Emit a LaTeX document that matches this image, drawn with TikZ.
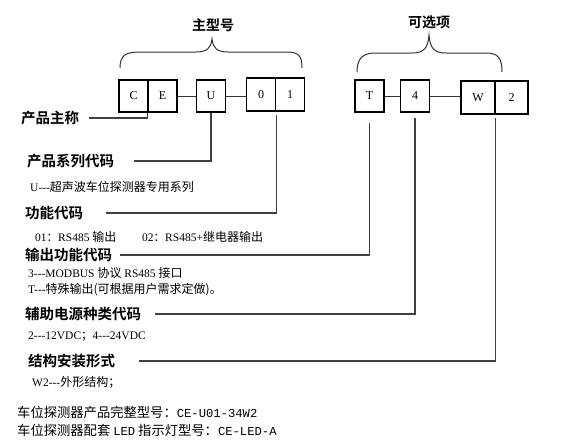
\documentclass[tikz,border=0pt]{standalone}
\usepackage{fontspec}
\setmainfont[Ligatures=TeXOff]{Liberation Serif}
\newfontfamily\zh[BoldFont={Noto Sans CJK SC Bold}]{Noto Sans CJK SC}
\newfontfamily\mono{Liberation Mono}
\usetikzlibrary{positioning}

\begin{document}
\begin{tikzpicture}[x=1pt,y=-1pt,
  cell/.style={draw,line width=1.6pt,minimum width=29pt,minimum height=32pt,inner sep=0pt,font=\fontsize{12}{12}\selectfont},
  head/.style={anchor=west,inner sep=0pt,font=\zh\bfseries\fontsize{14.5}{15}\selectfont},
  txt/.style={anchor=west,inner sep=0pt,font=\fontsize{11.5}{12}\selectfont},
  lead/.style={draw=black!75,line width=1.1pt},
  link/.style={draw=black!80,line width=0.9pt},
  brc/.style={draw=black!80,line width=1pt}]
\useasboundingbox (0,0) rectangle (585,445);
% main model boxes
\foreach \t/\x in {C/133.5,E/162.5,U/211} { \node[cell] (b\t) at (\x,96) {\t}; }
\foreach \t/\x in {0/261,1/290} { \node[cell,minimum height=33pt] (b\t) at (\x,94.5) {\t}; }
% optional boxes
\foreach \t/\x in {T/369.5,4/415} { \node[cell] (b\t) at (\x,96) {\t}; }
\foreach \t/\x in {W/478,2/511.5} { \node[cell,minimum width=33.5pt,minimum height=33pt] (b\t) at (\x,97.5) {\t}; }
\draw[link] (bE.east) -- (bU.west);
\draw[link] (bU.east) -- (bU.east -| b0.west);
\draw[link] (bT.east) -- (b4.west);
\draw[link] (b4.east) -- (b4.east -| bW.west);
% braces
\node[font=\zh\bfseries\fontsize{14}{14}\selectfont] (tMain) at (213,25) {主型号};
\node[font=\zh\bfseries\fontsize{14}{14}\selectfont] (tOpt) at (429,22) {可选项};
\draw[brc] (120,68) .. controls (120,55) and (126,52) .. (140,52) -- (196,52)
  .. controls (207,52) and (211,48) .. (212,39) .. controls (213,48) and (217,52) .. (228,52)
  -- (286,52) .. controls (299,52) and (302,56) .. (302,68);
\draw[brc] (357,72) .. controls (357,58) and (363,53) .. (376,53) -- (412,53)
  .. controls (424,53) and (428,48) .. (429,35) .. controls (430,48) and (434,53) .. (446,53)
  -- (486,53) .. controls (498,53) and (502,58) .. (502,72);
% headings
\node[head] (hA) at (21,118) {产品主称};
\node[head] (hB) at (27,161) {产品系列代码};
\node[head] (hC) at (25,213) {功能代码};
\node[head] (hD) at (25,255) {输出功能代码};
\node[head] (hE) at (25,314) {辅助电源种类代码};
\node[head] (hF) at (28,361) {结构安装形式};
% leads
\draw[lead] ([xshift=10pt]hA.east) -| (bE.south west);
\draw[lead] ([xshift=20pt]hB.east) -| (bU.south);
\draw[lead,shorten >=3pt] ([xshift=23pt]hC.east) -| (b0.south east);
\draw[lead,shorten >=10pt] ([xshift=8pt]hD.east) -| (bT.south);
\draw[lead,shorten >=5pt] ([xshift=14pt]hE.east) -| (b4.south);
\draw[lead,shorten >=3pt] ([xshift=24pt]hF.east) -| (bW.south east);
% descriptions
\node[txt] (dB) at (30,187) {U---{\zh\fontsize{12}{12}\selectfont 超声波车位探测器专用系列}};
\node[txt] (dC1) at (35,237) {01{\zh ：}RS485 {\zh\fontsize{12}{12}\selectfont 输出}};
\node[txt] (dC2) at (142,237) {02{\zh ：}RS485+{\zh\fontsize{12}{12}\selectfont 继电器输出}};
\node[txt] (dD1) at (28,273) {3---MODBUS {\zh\fontsize{12}{12}\selectfont 协议} RS485 {\zh\fontsize{12}{12}\selectfont 接口}};
\node[txt] (dD2) at (28,290) {T---{\zh\fontsize{12}{12}\selectfont 特殊输出(可根据用户需求定做)。}};
\node[txt] (dE) at (28,337) {2---12VDC{\zh ；}4---24VDC};
\node[txt] (dF) at (32,382) {W2---{\zh\fontsize{12}{12}\selectfont 外形结构；}};
% model numbers
\node[txt,font=\zh\fontsize{13.3}{14}\selectfont] (mA) at (17,412) {车位探测器产品完整型号：{\mono\fontsize{12.2}{14}\selectfont CE-U01-34W2}};
\node[txt,font=\zh\fontsize{13.3}{14}\selectfont] (mB) at (17,430) {车位探测器配套 {\mono\fontsize{12.2}{14}\selectfont LED} 指示灯型号：{\mono\fontsize{12.2}{14}\selectfont CE-LED-A}};
\end{tikzpicture}
\end{document}
